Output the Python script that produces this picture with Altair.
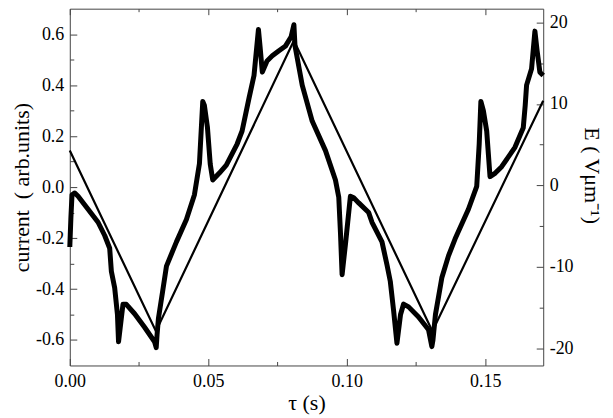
import altair as alt
import pandas as pd

# ---- data ----
tau_cur = [
    0.0000, 0.0004, 0.0008, 0.0018, 0.0030, 0.0066, 0.0102, 0.0126, 0.0144, 0.0150,
    0.0162, 0.0172, 0.0176, 0.0192, 0.0204, 0.0234, 0.0270, 0.0306, 0.0312,
    0.0315, 0.0320, 0.0335, 0.0349, 0.0385, 0.0421, 0.0450, 0.0468, 0.0480, 0.0486,
    0.0497, 0.0507, 0.0516, 0.0540, 0.0565, 0.0604, 0.0622, 0.0647, 0.0665, 0.0681,
    0.0687, 0.0695, 0.0712, 0.0731, 0.0755, 0.0779, 0.0799, 0.0809,
    0.0813, 0.0839, 0.0875, 0.0923, 0.0959, 0.0971, 0.0977, 0.0983, 0.0996, 0.1013,
    0.1025, 0.1043, 0.1079, 0.1091, 0.1127, 0.1145, 0.1157, 0.1169, 0.1181, 0.1194,
    0.1205, 0.1223, 0.1259, 0.1295, 0.1307,
    0.1311, 0.1320, 0.1343, 0.1367, 0.1391, 0.1439, 0.1469, 0.1478, 0.1484, 0.1493,
    0.1505, 0.1517, 0.1536, 0.1559, 0.1607, 0.1637, 0.1644, 0.1649, 0.1667, 0.1679,
    0.1687, 0.1697, 0.1709,
]
current = [
    -0.235, -0.12, -0.03, -0.023, -0.036, -0.087, -0.138, -0.19, -0.24, -0.33,
    -0.395, -0.50, -0.607, -0.46, -0.46, -0.497, -0.55, -0.607, -0.63,
    -0.58, -0.515, -0.41, -0.31, -0.215, -0.127, -0.03, 0.092, 0.336, 0.32,
    0.233, 0.09, 0.028, 0.055, 0.086, 0.169, 0.22, 0.349, 0.438, 0.618,
    0.55, 0.451, 0.495, 0.515, 0.535, 0.554, 0.59, 0.637,
    0.554, 0.40, 0.259, 0.143, 0.028, -0.04, -0.177, -0.344, -0.215, -0.036,
    -0.042, -0.062, -0.10, -0.138, -0.215, -0.305, -0.37, -0.485, -0.613, -0.50,
    -0.459, -0.47, -0.51, -0.56, -0.626,
    -0.60, -0.50, -0.356, -0.27, -0.203, -0.087, 0.003, 0.17, 0.336, 0.30,
    0.22, 0.041, 0.055, 0.08, 0.156, 0.233, 0.32, 0.40, 0.464, 0.612,
    0.535, 0.451, 0.438,
]
tau_e = [0.0, 0.0311, 0.0809, 0.1309, 0.1709]
field_e = [4.3, -17.9, 17.8, -17.9, 10.4]

x_major = [0.0, 0.05, 0.10, 0.15]
x_minor = [0.025, 0.075, 0.125]
y_left_major = [-0.6, -0.4, -0.2, 0.0, 0.2, 0.4, 0.6]
y_left_minor = [-0.5, -0.3, -0.1, 0.1, 0.3, 0.5]
y_right_major = [-20, -10, 0, 10, 20]
y_right_minor = [-15, -5, 5, 15]

df_c = pd.DataFrame({"tau": tau_cur, "cur": current})
df_e = pd.DataFrame({"tau": tau_e, "e": field_e})

FONT = "Liberation Serif, Times New Roman, serif"
AX = "#444444"

xscale = alt.Scale(domain=[0, 0.1709], nice=False, zero=False)
yl = alt.Scale(domain=[-0.7, 0.7], nice=False, zero=False)
yr = alt.Scale(domain=[-22.1, 21.7], nice=False, zero=False)


def ax(orient, values, size, **kw):
    base = dict(orient=orient, values=values, offset=-size, tickSize=size,
                domain=False, grid=False, tickColor=AX, tickWidth=1,
                labels=False, title=None)
    base.update(kw)
    return alt.Axis(**base)


lab = dict(labels=True, labelFont=FONT, labelFontSize=18, labelColor="black",
           labelFlush=False, labelOverlap=False,
           titleFont=FONT, titleFontWeight="normal", titleColor="black")

line_c = alt.Chart(df_c).mark_line(color="black", strokeWidth=5, strokeJoin="round").encode(
    x=alt.X("tau:Q", scale=xscale,
            axis=ax("bottom", x_major, 7, labelPadding=7,
                    labelExpr="format(datum.value, '.2f')",
                    title="τ (s)", titleFontSize=22, titlePadding=2, **lab)),
    y=alt.Y("cur:Q", scale=yl,
            axis=ax("left", y_left_major, 7, labelPadding=6,
                    labelExpr="(datum.value < -0.0001 ? '-' : '') + format(abs(datum.value), '.1f')",
                    title="current\u00a0 ( arb.units)", titleFontSize=22, titlePadding=2, **lab)),
)

line_e = alt.Chart(df_e).mark_line(color="black", strokeWidth=2.2, strokeJoin="miter").encode(
    x=alt.X("tau:Q", scale=xscale, axis=ax("bottom", x_minor, 4)),
    y=alt.Y("e:Q", scale=yr,
            axis=ax("right", y_right_major, 7, labelPadding=6,
                    labelExpr="(datum.value < 0 ? '-' : '') + format(abs(datum.value), 'd')",
                    title="E ( Vμm⁻¹)", titleFontSize=22, titlePadding=6, titleY=167,
                    **lab)),
)

ghost_c = alt.Chart(df_c).mark_line(strokeOpacity=0).encode(
    x=alt.X("tau:Q", scale=xscale, axis=ax("top", x_major, 6)),
    y=alt.Y("cur:Q", scale=yl, axis=ax("left", y_left_minor, 4)),
)

ghost_e = alt.Chart(df_e).mark_line(strokeOpacity=0).encode(
    x=alt.X("tau:Q", scale=xscale, axis=ax("top", x_minor, 3)),
    y=alt.Y("e:Q", scale=yr, axis=ax("right", y_right_minor, 4)),
)

chart = (
    alt.layer(line_c, line_e, ghost_c, ghost_e)
    .resolve_scale(y="independent")
    .resolve_axis(x="independent", y="independent")
    .properties(
        width=475, height=358,
        autosize=alt.AutoSizeParams(type="none"),
        padding={"left": 62, "top": 0, "right": 62, "bottom": 50},
    )
    .configure_view(stroke=AX, strokeWidth=1)
)

chart.save("out.html", embed_options={"renderer": "svg", "actions": False})
